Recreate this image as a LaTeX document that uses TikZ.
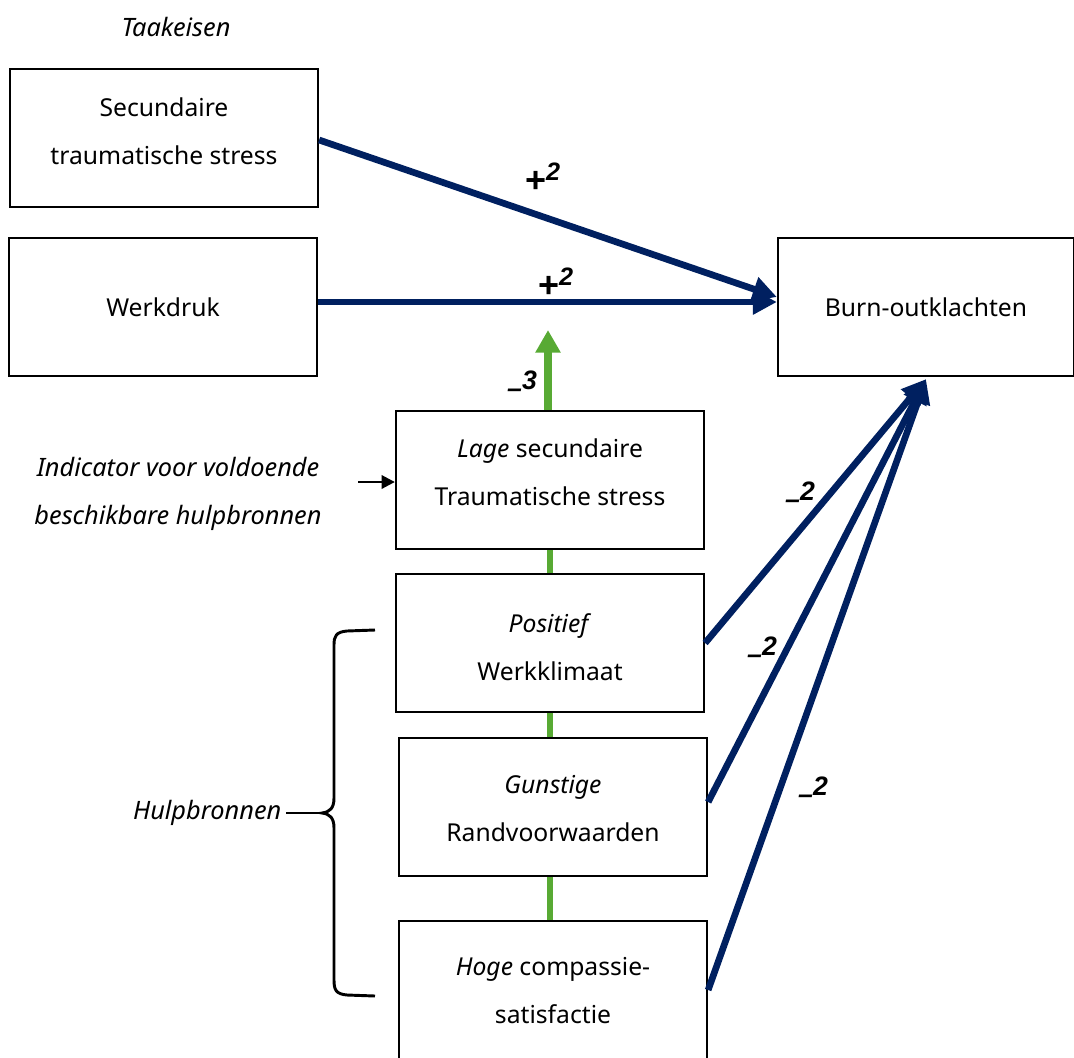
\documentclass[tikz,border=0pt]{standalone}
\usepackage{fontspec}
\setmainfont{Noto Sans}
\newfontfamily\lblfont{Liberation Sans}
\usetikzlibrary{arrows.meta,calc}
\definecolor{navy}{RGB}{0,32,96}
\definecolor{grn}{RGB}{88,170,52}
\newcommand{\plustwo}{{\lblfont\bfseries\fontsize{27}{30}\selectfont +\textsuperscript{\itshape 2}}}
\newcommand{\mintwo}[1]{{\lblfont\bfseries\itshape\fontsize{20}{22}\selectfont\raisebox{-0.6ex}{–}#1}}
\begin{document}
\begin{tikzpicture}[x=0.75pt,y=-0.75pt,
  box/.style={draw=black,line width=1.7pt,minimum width=231pt,minimum height=103.5pt,inner sep=0pt},
  boxtxt/.style={align=center,inner sep=0pt,font=\fontsize{18.5}{36}\selectfont},
  navyarr/.style={draw=navy,line width=5pt,-{Triangle[length=18pt,width=18pt]}},
  grnline/.style={draw=grn,line width=4pt},
  txt/.style={font=\fontsize{19}{36}\selectfont\itshape,align=center}]
\useasboundingbox (0,0) rectangle (1074,1057);
% green backbone
\draw[grnline] (550,922) -- (550,549);
% boxes
\node[box] (sts) at (164,138) {};
\node[boxtxt] (ststx) at ($(sts)+(0,-7)$) {Secundaire\\traumatische stress};
\node[box] (wd) at (163,307) {};
\node[boxtxt] (wdtx) at (wd) {Werkdruk};
\node[box,minimum width=222pt] (burn) at (926,307) {};
\node[boxtxt] (burntx) at (burn) {Burn-outklachten};
\node[box,fill=white] (lage) at (550,480) {};
\node[boxtxt] (lagetx) at ($(lage)+(0,-8)$) {\textit{Lage} secundaire\\Traumatische stress};
\node[box,fill=white] (pos) at (550,643) {};
\node[boxtxt] (postx) at ($(pos)+(0,4)$) {\textit{Positief}\\Werkklimaat};
\node[box,fill=white] (gun) at (553,807) {};
\node[boxtxt] (guntx) at ($(gun)+(0,2)$) {\textit{Gunstige}\\Randvoorwaarden};
\node[box,fill=white] (hoge) at (553,990) {};
\node[boxtxt] (hogetx) at ($(hoge)+(0,1)$) {\textit{Hoge} compassie-\\satisfactie};
% side texts
\node[txt] (taak) at (176,27) {Taakeisen};
\node[txt] (ind) at (178,494) {Indicator voor voldoende\\beschikbare hulpbronnen};
\node[txt,anchor=east] (hulp) at (286,813) {Hulpbronnen};
% small arrow
\coordinate (indarr) at (358,482);
\draw[line width=2pt,-{Triangle[length=10pt,width=10pt]}] (indarr) -- (lage.west |- indarr);
% brace
\draw[line width=2.2pt] (375,630) -- (347,631) .. controls (336,632) and (334,636) .. (334,645)
  -- (334,798) .. controls (334,808) and (330,812) .. (322,813)
  .. controls (330,814) and (334,818) .. (334,828)
  -- (334,980) .. controls (334,990) and (336,994) .. (347,995) -- (375,996);
\draw[line width=2.2pt] (hulp.east) -- (322,813);
% arrows
\coordinate (gtip) at (548,330);
\draw[grn,line width=6pt,-{Triangle[length=17pt,width=18pt]}] (lage.north -| gtip) -- (gtip);
\draw[navyarr] ($(sts.east)+(0,2)$) -- ($(burn.west)+(0,-10)$);
\draw[navyarr] ($(wd.east)+(0,-5)$) -- ($(burn.west)+(0,-5)$);
\draw[navyarr] (pos.east) -- ($(burn.south)+(0,2)$);
\draw[navyarr] ($(gun.east)+(0,-5)$) -- ($(burn.south)+(0,2)$);
\draw[navyarr] (hoge.east) -- ($(burn.south)+(0,2)$);
% labels
\node (l1) at (543,178) {\plustwo};
\node (l2) at (556,283) {\plustwo};
\node (l3) at (522,384) {\mintwo{3}};
\node (l4) at (800,495) {\mintwo{2}};
\node (l5) at (762,650) {\mintwo{2}};
\node (l6) at (813,790) {\mintwo{2}};
\end{tikzpicture}
\end{document}
